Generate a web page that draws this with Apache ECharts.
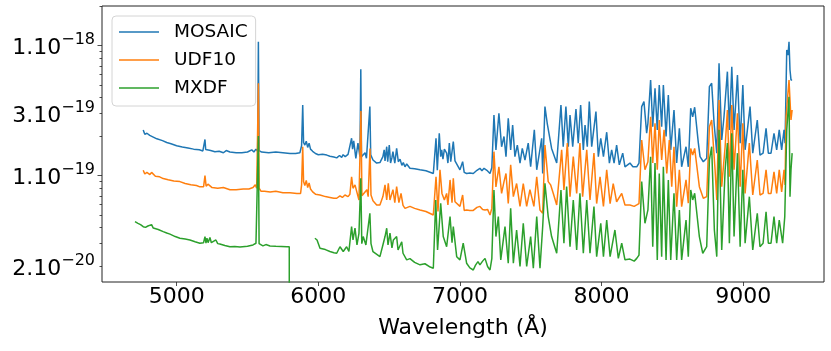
<!DOCTYPE html>
<html>
<head>
<meta charset="utf-8">
<script src="https://cdn.jsdelivr.net/npm/echarts@6/dist/echarts.min.js"></script>
<style>
  html, body { margin: 0; padding: 0; background: #fff; }
  #spectra { width: 831px; height: 351px; }
</style>
</head>
<body>
<div id="spectra"></div>
<script>
// flux in units of 1e-20 erg/s/cm2/A, wavelength in Angstrom
var mosaic = [
  [4764,22.5],[4775,20.8],[4790,21.2],[4810,20.4],[4835,19.8],[4860,19.2],[4900,18.6],[4930,18.0],[4960,17.6],[5000,17.0],
  [5040,16.6],[5080,16.3],[5120,16.0],[5160,15.8],[5185,15.5],[5195,15.9],[5200,19.0],[5205,15.9],[5215,15.6],[5240,15.6],
  [5270,15.3],[5300,15.4],[5330,15.0],[5350,15.6],[5376,15.2],[5420,15.0],[5460,15.0],[5500,15.2],[5530,15.8],[5545,15.2],
  [5560,16.0],[5572,15.4],[5577,107],[5582,15.6],[5590,15.8],[5600,15.2],[5650,15.0],[5700,15.2],[5750,15.0],[5800,14.8],
  [5840,14.8],[5870,15.0],[5882,17.0],[5890,35.0],[5896,18.0],[5905,17.2],[5915,18.4],[5925,16.5],[5935,17.8],[5945,16.0],
  [5960,15.4],[5980,14.8],[6000,14.5],[6030,14.6],[6060,14.4],[6082,14.1],[6110,13.9],[6130,13.7],[6150,14.3],[6165,13.8],
  [6175,14.5],[6190,14.0],[6210,14.6],[6223,14.2],[6235,19.4],[6242,16.0],[6250,18.5],[6259,18.3],[6265,13.6],[6280,17.8],
  [6287,17.8],[6294,14.0],[6300,65.8],[6305,14.0],[6317,14.0],[6330,15.0],[6340,13.6],[6352,14.0],[6364,34.0],[6370,14.5],
  [6386,13.2],[6400,12.8],[6412,12.5],[6425,12.7],[6435,12.6],[6456,14.0],[6465,15.8],[6471,13.0],[6483,16.7],[6490,12.8],
  [6501,17.2],[6510,12.5],[6520,13.8],[6527,15.3],[6540,12.5],[6553,16.2],[6565,12.8],[6577,13.4],[6590,12.0],[6600,12.6],
  [6612,11.7],[6624,12.3],[6647,11.4],[6680,11.3],[6718,11.1],[6760,10.9],[6812,10.4],[6822,10.7],[6831,19.4],[6840,11.0],
  [6854,21.2],[6864,14.0],[6871,15.8],[6880,13.4],[6890,16.0],[6906,14.9],[6915,12.5],[6925,17.8],[6935,12.8],[6953,18.3],
  [6965,13.0],[6977,12.8],[7000,11.1],[7019,12.8],[7030,10.6],[7047,10.4],[7070,10.5],[7094,10.4],[7120,11.0],[7141,11.4],
  [7155,10.9],[7170,11.4],[7190,11.0],[7212,10.4],[7225,11.5],
  [7240,29.3],[7254,15.8],[7275,30.2],[7294,16.7],[7311,20.0],[7325,14.0],[7341,27.6],[7358,15.8],[7372,24.5],[7388,14.0],
  [7405,17.2],[7424,12.5],[7440,16.2],[7459,13.2],[7482,17.8],[7499,11.7],[7525,22.5],[7542,11.1],[7577,19.4],[7584,10.4],
  [7600,34.0],[7616,25.3],[7630,25.9],[7647,16.2],[7683,12.5],[7713,35.0],[7729,16.7],[7748,34.0],[7765,16.7],[7777,29.3],
  [7796,16.7],[7819,32.5],[7835,17.8],[7852,35.0],[7871,15.8],[7883,24.5],[7899,16.7],[7913,37.1],[7930,16.7],[7960,31.1],
  [7977,14.0],[7994,19.4],[8013,14.0],[8036,21.6],[8055,12.5],[8071,15.8],[8088,12.5],[8106,17.2],[8125,12.1],[8149,14.9],
  [8165,11.7],[8200,12.5],[8221,11.7],[8248,11.7],[8264,12.5],[8283,34.0],[8299,37.1],[8318,21.2],[8327,25.3],[8346,54.5],
  [8361,23.8],[8377,47.0],[8393,22.5],[8407,49.9],[8424,23.8],[8436,49.9],[8455,20.0],[8471,41.8],[8488,15.8],[8511,32.0],
  [8530,12.5],[8549,23.1],[8565,11.7],[8596,16.7],[8612,11.7],[8629,33.0],[8643,28.4],[8657,33.6],[8683,17.8],[8695,14.0],
  [8718,12.8],[8742,13.6],[8761,48.4],[8777,51.4],[8794,25.3],[8813,14.9],[8829,73.2],[8848,18.8],[8864,28.4],[8888,63.1],
  [8902,22.5],[8919,68.9],[8935,22.5],[8959,59.5],[8978,17.8],[8997,49.9],[9013,15.8],[9048,34.0],[9067,14.9],[9099,26.8],
  [9118,14.4],[9140,14.9],[9161,23.1],[9177,14.9],[9196,14.9],[9217,21.2],[9236,15.8],[9254,22.5],[9271,15.8],[9288,22.5],
  [9295,17.8],[9307,92.7],[9316,84.8],[9323,107],[9330,65.0],[9337,54.5],[9345,54.5]
];

var udf10 = [
  [4764,11.0],[4775,10.3],[4790,10.6],[4811,10.2],[4823,10.6],[4850,9.9],[4880,9.8],[4905,9.5],[4940,9.3],[4980,9.1],
  [5023,9.0],[5060,8.7],[5100,8.5],[5140,8.4],[5164,8.2],[5190,8.2],[5200,10.0],[5208,8.3],[5221,8.6],[5250,8.1],
  [5290,8.0],[5330,8.1],[5376,7.8],[5420,7.8],[5470,7.9],[5510,7.9],[5539,8.1],[5555,8.5],[5565,8.0],[5572,8.2],
  [5577,51.4],[5582,8.0],[5595,7.6],[5620,7.6],[5660,7.5],[5700,7.6],[5750,7.4],[5800,7.4],[5849,7.3],[5875,7.3],
  [5882,8.5],[5890,16.7],[5896,9.0],[5905,8.4],[5915,9.2],[5925,8.1],[5935,8.8],[5945,7.9],[5960,7.5],[5980,7.2],
  [6012,7.1],[6050,6.9],[6082,6.8],[6110,6.7],[6130,6.7],[6153,7.0],[6170,6.8],[6188,7.1],[6210,6.9],[6223,7.2],
  [6235,9.8],[6245,8.0],[6259,8.5],[6273,8.7],[6287,6.5],[6301,31.5],[6308,7.0],[6317,7.1],[6343,7.8],[6352,6.9],
  [6365,16.2],[6372,7.1],[6386,6.4],[6412,5.95],[6435,5.95],[6456,6.9],[6471,8.5],[6483,6.5],[6494,8.74],[6506,6.5],
  [6527,7.8],[6540,6.2],[6553,8.23],[6569,6.2],[6584,7.3],[6598,5.9],[6612,5.6],[6647,5.8],[6680,5.6],[6718,5.45],
  [6760,5.3],[6812,4.98],[6822,5.1],[6831,9.8],[6845,5.3],[6859,11.1],[6873,7.3],[6890,6.5],[6906,7.3],[6915,5.95],
  [6930,9.27],[6944,6.2],[6953,9.55],[6965,6.3],[6977,6.14],[7000,5.8],[7019,7.1],[7030,5.4],[7047,5.45],[7070,5.4],
  [7094,5.4],[7120,5.7],[7141,5.8],[7160,5.5],[7177,5.45],[7195,5.5],[7212,4.98],[7225,5.6],
  [7240,15.3],[7254,8.2],[7275,11.7],[7294,7.3],[7311,9.0],[7325,10.4],[7341,6.1],[7358,12.1],[7377,6.9],[7400,8.7],
  [7424,5.8],[7447,8.7],[7471,5.8],[7494,7.8],[7522,5.8],[7542,9.8],[7565,5.45],[7584,5.14],[7600,17.2],[7623,9.0],
  [7640,8.5],[7659,7.3],[7683,5.95],[7718,15.8],[7734,7.76],[7758,17.8],[7777,6.9],[7800,14.0],[7824,7.3],[7847,17.8],
  [7866,6.9],[7895,15.8],[7918,6.5],[7946,14.9],[7965,6.1],[7989,9.8],[8013,5.8],[8036,11.1],[8060,6.1],[8082,8.7],
  [8106,6.3],[8142,7.3],[8165,5.95],[8200,5.95],[8230,5.8],[8248,5.95],[8264,6.1],[8283,18.8],[8306,11.1],[8327,12.8],
  [8346,28.4],[8361,12.5],[8377,25.3],[8393,11.1],[8407,26.8],[8424,13.2],[8441,22.5],[8460,10.4],[8478,18.8],[8495,8.23],
  [8511,16.7],[8530,5.78],[8549,11.1],[8565,5.78],[8596,9.27],[8612,6.14],[8629,16.2],[8643,14.4],[8657,16.2],[8690,8.23],
  [8718,6.7],[8742,6.9],[8761,23.8],[8777,26.8],[8801,11.1],[8813,6.5],[8829,38.2],[8848,8.23],[8872,16.7],[8888,32.0],
  [8902,9.8],[8919,35.0],[8935,11.1],[8959,30.2],[8978,8.23],[8997,25.3],[9013,7.3],[9043,17.8],[9067,7.1],[9099,13.2],
  [9118,7.1],[9140,7.3],[9161,11.1],[9177,7.3],[9196,7.3],[9217,10.7],[9236,7.3],[9254,11.1],[9271,7.5],[9288,11.1],
  [9295,8.5],[9302,28.4],[9323,54.5],[9330,38.2],[9337,26.8],[9345,32.0]
];

// MXDF has a gap around the AO laser notch (null breaks the line)
var mxdf = [
  [4706,4.43],[4727,4.3],[4745,4.2],[4764,4.05],[4780,4.0],[4797,4.1],[4810,4.0],[4823,4.2],[4835,3.95],[4847,3.9],
  [4870,3.85],[4905,3.71],[4930,3.62],[4953,3.55],[4990,3.4],[5023,3.3],[5060,3.25],[5094,3.2],[5130,3.1],[5164,3.02],
  [5190,3.05],[5200,3.4],[5207,3.03],[5214,3.3],[5222,3.05],[5235,3.35],[5245,3.05],[5256,3.15],[5277,3.2],[5290,3.0],
  [5305,2.98],[5340,2.9],[5376,2.84],[5410,2.85],[5447,2.82],[5500,2.86],[5539,2.93],[5560,3.02],[5570,3.0],[5577,20.2],
  [5582,3.0],[5588,3.02],[5595,3.1],[5609,2.88],[5630,2.95],[5659,2.88],[5700,2.86],[5740,2.85],[5779,2.84],[5795,2.84],
  [5796,0.01],[5850,null],[5976,3.30],[5991,3.2],[6012,2.76],[6050,2.7],[6082,2.61],[6110,2.55],[6130,2.53],[6153,2.84],
  [6176,2.61],[6200,2.84],[6216,2.61],[6235,4.05],[6245,3.2],[6259,3.95],[6273,2.93],[6287,3.6],[6300,9.55],[6307,3.0],
  [6317,3.4],[6336,2.93],[6364,5.14],[6372,3.0],[6386,2.6],[6400,2.53],[6435,2.38],[6456,2.93],[6471,3.4],[6483,3.94],
  [6492,2.93],[6506,3.61],[6520,2.78],[6530,3.2],[6553,3.4],[6563,2.68],[6577,2.68],[6589,3.1],[6598,2.53],[6624,2.25],
  [6647,2.3],[6680,2.15],[6718,2.06],[6753,2.1],[6790,1.98],[6812,1.94],[6829,6.5],[6842,2.68],[6864,6.14],[6882,3.4],
  [6906,2.84],[6930,4.84],[6944,3.05],[6953,4.05],[6977,2.38],[7000,2.25],[7023,3.02],[7047,2.12],[7070,1.95],[7094,1.88],
  [7110,2.05],[7127,2.18],[7141,2.06],[7160,2.2],[7177,2.31],[7195,2.0],[7212,1.88],[7225,2.3],
  [7240,7.76],[7254,3.4],[7271,4.84],[7288,2.25],[7318,4.05],[7341,2.12],[7358,5.61],[7377,2.12],[7400,3.82],[7424,2.0],
  [7447,4.3],[7471,2.0],[7499,3.4],[7518,1.94],[7542,4.84],[7565,1.94],[7584,4.05],[7600,8.74],[7623,4.84],[7647,3.4],
  [7683,2.53],[7713,7.76],[7734,3.02],[7753,8.23],[7777,2.84],[7800,6.5],[7824,2.68],[7847,7.32],[7871,2.53],[7895,6.5],
  [7918,2.53],[7946,5.78],[7965,2.38],[7994,4.3],[8013,2.38],[8036,4.56],[8060,2.38],[8094,3.82],[8118,2.31],[8142,3.02],
  [8165,2.25],[8200,2.28],[8230,2.2],[8248,2.31],[8264,2.45],[8283,9.0],[8306,4.3],[8327,5.45],[8346,14.0],[8361,2.84],
  [8377,12.5],[8393,2.25],[8407,10.4],[8424,2.38],[8436,11.7],[8455,2.25],[8471,9.27],[8488,2.25],[8511,7.32],[8530,2.25],
  [8549,5.45],[8565,2.25],[8596,4.56],[8612,2.38],[8629,7.76],[8643,6.5],[8657,7.32],[8690,3.4],[8714,2.53],[8742,2.84],
  [8761,13.2],[8777,16.7],[8796,3.82],[8813,2.38],[8829,22.5],[8848,2.68],[8872,11.1],[8888,17.8],[8902,3.02],[8919,21.2],
  [8935,3.4],[8959,14.9],[8978,2.84],[8997,11.1],[9013,3.02],[9043,6.89],[9067,2.68],[9099,5.14],[9118,2.84],[9140,3.02],
  [9161,5.28],[9177,3.02],[9196,3.02],[9217,4.84],[9236,3.02],[9254,4.56],[9278,3.02],[9293,4.84],[9307,22.5],[9323,40.5],
  [9330,6.89],[9337,11.1],[9345,14.9]
];

var seriesNames = ['MOSAIC', 'UDF10', 'MXDF'];
var wavelengthTicks = [5000, 6000, 7000, 8000, 9000];
var fluxLabelTicks = [2, 10, 30, 100];
var fluxMajorTicks = [10, 100];
var fluxMinorTicks = [2, 3, 4, 5, 6, 7, 8, 9, 20, 30, 40, 50, 60, 70, 80, 90, 200];
var xRange = [4473, 9570];
var yRange = [1.52, 202];

var lg = function (v) { return Math.log10(v); };

var chart = echarts.init(document.getElementById('spectra'), null, { renderer: 'canvas' });

var option = {
    animation: false,
    textStyle: { fontFamily: 'DejaVu Sans', color: '#000' },
    grid: {
        left: 102, right: 7, top: 6, bottom: 69,
        outerBoundsMode: 'none',
        show: true, borderColor: '#222', borderWidth: 1
    },
    legend: {
        data: seriesNames,
        orient: 'vertical',
        left: 112, top: 16,
        icon: 'rect',
        itemWidth: 40, itemHeight: 1.5, itemGap: 6,
        padding: [5, 8, 7, 7],
        borderColor: '#d4d4d4', borderWidth: 1, borderRadius: 4,
        backgroundColor: 'rgba(255,255,255,0.8)',
        textStyle: { fontSize: 18.5, fontFamily: 'DejaVu Sans', color: '#000', padding: [0, 0, 0, 10], lineHeight: 22 }
    },
    xAxis: {
        type: 'value',
        min: xRange[0], max: xRange[1],
        name: 'Wavelength (Å)',
        nameLocation: 'middle',
        nameGap: 35,
        nameTextStyle: { fontSize: 22, color: '#000' },
        axisLine: { show: false },
        splitLine: { show: false },
        axisTick: { show: true, customValues: wavelengthTicks, length: 4, lineStyle: { color: '#222', width: 0.8 } },
        axisLabel: {
            customValues: wavelengthTicks, fontSize: 22, color: '#000', margin: 4,
            formatter: function (v) { return String(v); }
        }
    },
    yAxis: [
        {
            // data axis (log scale), drawn invisible
            type: 'log', logBase: 10, position: 'left',
            min: yRange[0], max: yRange[1],
            axisLine: { show: false }, axisTick: { show: false },
            axisLabel: { show: false }, splitLine: { show: false }
        },
        {
            // labels and minor ticks, in log10 space of the same range
            type: 'value', position: 'left', offset: 0,
            min: lg(yRange[0]), max: lg(yRange[1]),
            axisLine: { show: false }, splitLine: { show: false },
            axisTick: { show: true, customValues: fluxMinorTicks.map(lg), length: 2.5, lineStyle: { color: '#222', width: 0.8 } },
            axisLabel: {
                customValues: fluxLabelTicks.map(lg),
                margin: 7,
                formatter: function (v) {
                    var e = Math.floor(v + 1e-9);
                    var m = Math.round(Math.pow(10, v - e));
                    return '{m|' + m + '.10}{e|\u2212' + (20 - e) + '}';
                },
                rich: {
                    m: { fontSize: 22, lineHeight: 28, verticalAlign: 'bottom', color: '#000', fontFamily: 'DejaVu Sans' },
                    e: { fontSize: 16, lineHeight: 16, verticalAlign: 'top', color: '#000', fontFamily: 'DejaVu Sans' }
                }
            }
        },
        {
            // major ticks
            type: 'value', position: 'left', offset: 0,
            min: lg(yRange[0]), max: lg(yRange[1]),
            axisLine: { show: false }, splitLine: { show: false },
            axisTick: { show: true, customValues: fluxMajorTicks.map(lg), length: 4.5, lineStyle: { color: '#222', width: 0.8 } },
            axisLabel: { show: false }
        }
    ],
    series: [
        { name: seriesNames[0], type: 'line', data: mosaic, yAxisIndex: 0, symbol: 'none', color: '#1f77b4', lineStyle: { width: 1.5 } },
        { name: seriesNames[1], type: 'line', data: udf10, yAxisIndex: 0, symbol: 'none', color: '#ff7f0e', lineStyle: { width: 1.5 } },
        { name: seriesNames[2], type: 'line', data: mxdf, yAxisIndex: 0, symbol: 'none', color: '#2ca02c', lineStyle: { width: 1.5 }, connectNulls: false }
    ]
};

chart.setOption(option);
</script>
</body>
</html>
